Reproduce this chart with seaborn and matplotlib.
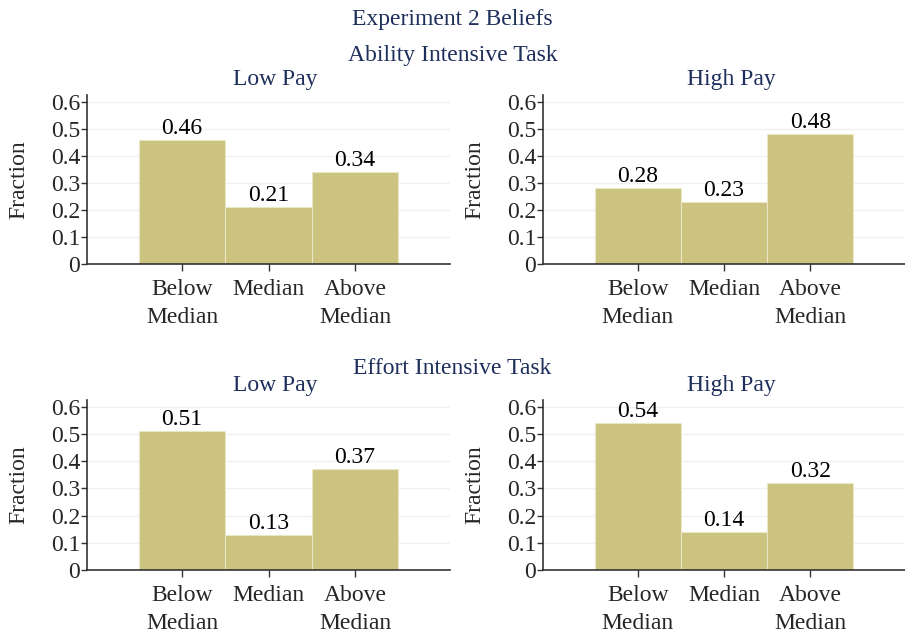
import matplotlib
matplotlib.use("Agg")
import matplotlib.pyplot as plt
import seaborn as sns
import pandas as pd

# categories and panel values
categories = ["Below\nMedian", "Median", "Above\nMedian"]
ability_low = [0.46, 0.21, 0.34]
ability_high = [0.28, 0.23, 0.48]
effort_low = [0.51, 0.13, 0.37]
effort_high = [0.54, 0.14, 0.32]
y_ticks = [0, 0.1, 0.2, 0.3, 0.4, 0.5, 0.6]
y_tick_labels = ["0", "0.1", "0.2", "0.3", "0.4", "0.5", "0.6"]

bar_color = "#cbc37f"
title_color = "#1f2f5c"
axis_color = "#333333"

sns.set_theme(style="white")
plt.rcParams["font.family"] = ["Liberation Serif", "DejaVu Serif"]

fig = plt.figure(figsize=(9.05, 6.33), dpi=100)

W, H = 905, 633
panels = [
    (ability_low, (87, 95, 450, 264), "Low Pay"),
    (ability_high, (543, 95, 905, 264), "High Pay"),
    (effort_low, (87, 400, 450, 570), "Low Pay"),
    (effort_high, (543, 400, 905, 570), "High Pay"),
]

for values, (x0, y0, x1, y1), sub in panels:
    ax = fig.add_axes([x0 / W, 1 - y1 / H, (x1 - x0) / W, (y1 - y0) / H])
    df = pd.DataFrame({"cat": categories, "val": values})
    sns.barplot(data=df, x="cat", y="val", ax=ax, color=bar_color,
                width=1.0, saturation=1, edgecolor="#ebe6c4", linewidth=0.8)
    for p, v in zip(ax.patches, values):
        ax.text(p.get_x() + p.get_width() / 2, p.get_height() + 0.022,
                f"{v:.2f}", ha="center", va="baseline", fontsize=17, color="black")
    ax.set_xlim(-1.1, 3.1)
    ax.set_ylim(0, 0.625)
    ax.set_yticks(y_ticks)
    ax.set_yticklabels(y_tick_labels)
    ax.yaxis.grid(True, color="#f0f0f0", linewidth=1)
    ax.set_axisbelow(True)
    ax.set_xlabel("")
    ax.set_ylabel("Fraction", fontsize=17)
    ax.yaxis.set_label_coords(-0.158, 0.5)
    ax.tick_params(axis="y", labelsize=17, length=4, width=1, color=axis_color, pad=1, left=True)
    ax.tick_params(axis="x", labelsize=17, length=5, width=1, color=axis_color, pad=6, bottom=True)
    for lab in ax.get_xticklabels():
        lab.set_verticalalignment("top")
        lab.set_linespacing(1.4)
    sns.despine(ax=ax)
    for s in ("left", "bottom"):
        ax.spines[s].set_color(axis_color)
        ax.spines[s].set_linewidth(1.2)
    cx = (x0 + x1) / 2 + 7
    fig.text(cx / W, 1 - (y0 - 15) / H, sub, ha="center", va="center",
             fontsize=17, color=title_color)

fig.text(0.5, 1 - 19 / H, "Experiment 2 Beliefs", ha="center", va="center",
         fontsize=17, color=title_color)
fig.text(0.5, 1 - 56 / H, "Ability Intensive Task", ha="center", va="center",
         fontsize=17, color=title_color)
fig.text(0.5, 1 - 368 / H, "Effort Intensive Task", ha="center", va="center",
         fontsize=17, color=title_color)

fig.savefig("out.png", dpi=100)
